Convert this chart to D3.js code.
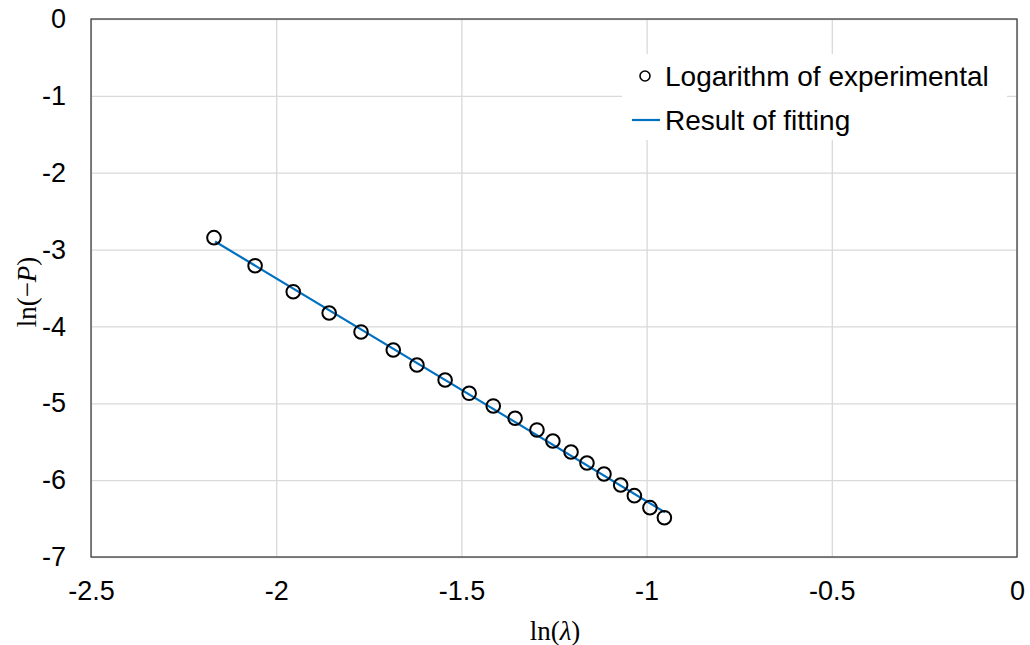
<!DOCTYPE html>
<html>
<head>
<meta charset="utf-8">
<script src="https://cdn.jsdelivr.net/npm/d3@7"></script>
<style>
  body { margin: 0; background: #fff; }
  .tick text { font-family: "Liberation Sans", Arial, sans-serif; font-size: 27px; fill: #000; }
</style>
</head>
<body>
<div id="chart"></div>
<script>
// data
var lnLambda = [-2.168, -2.057, -1.954, -1.857, -1.771, -1.684, -1.620, -1.544, -1.479, -1.414,
                -1.355, -1.296, -1.253, -1.204, -1.161, -1.115, -1.070, -1.033, -0.991, -0.952];
var lnP = [-2.845, -3.210, -3.548, -3.825, -4.072, -4.307, -4.502, -4.697, -4.870, -5.035,
           -5.195, -5.347, -5.491, -5.634, -5.777, -5.920, -6.063, -6.202, -6.358, -6.489];
var fitX = [-2.165, -0.950];
var fitY = [-2.895, -6.420];
var xTicks = [-2.5, -2, -1.5, -1, -0.5, 0];
var yTicks = [0, -1, -2, -3, -4, -5, -6, -7];
var legendLabels = ["Logarithm of experimental", "Result of fitting"];

var svgWidth = 1030;
var svgHeight = 645;
var margin = { top: 19, right: 13, bottom: 88, left: 91 };
var width = svgWidth - margin.left - margin.right;
var height = svgHeight - margin.top - margin.bottom;

var svg = d3.select("#chart")
  .append("svg")
  .attr("width", svgWidth)
  .attr("height", svgHeight)
  .append("g")
  .attr("transform", `translate(${margin.left}, ${margin.top})`);

var xScale = d3.scaleLinear().domain([-2.5, 0]).range([0, width]);
var yScale = d3.scaleLinear().domain([-7, 0]).range([height, 0]);

// gridlines
svg.append("g")
  .attr("transform", `translate(0, ${height})`)
  .call(d3.axisBottom(xScale).tickValues(xTicks).tickSize(-height).tickFormat(""))
  .call(g => g.select(".domain").remove())
  .call(g => g.selectAll("line").attr("stroke", "#d9d9d9").attr("stroke-width", 1.3));
svg.append("g")
  .call(d3.axisLeft(yScale).tickValues(yTicks).tickSize(-width).tickFormat(""))
  .call(g => g.select(".domain").remove())
  .call(g => g.selectAll("line").attr("stroke", "#d9d9d9").attr("stroke-width", 1.3));

// tick labels (plain hyphen minus like the original)
svg.append("g")
  .attr("transform", `translate(0, ${height})`)
  .call(d3.axisBottom(xScale).tickValues(xTicks).tickSize(0).tickPadding(24).tickFormat(d => String(d)))
  .call(g => g.select(".domain").remove());
svg.append("g")
  .call(d3.axisLeft(yScale).tickValues(yTicks).tickSize(0).tickPadding(25).tickFormat(d => String(d)))
  .call(g => g.select(".domain").remove());

// frame
svg.append("rect")
  .attr("width", width)
  .attr("height", height)
  .attr("fill", "none")
  .attr("stroke", "#404040")
  .attr("stroke-width", 1.3);

// fitted line
var line = d3.line().x(d => xScale(d[0])).y(d => yScale(d[1]));
svg.append("path")
  .datum(fitX.map((x, i) => [x, fitY[i]]))
  .attr("d", line)
  .attr("fill", "none")
  .attr("stroke", "#0070c0")
  .attr("stroke-width", 2.2);

// experimental points
svg.selectAll("circle.pt")
  .data(lnLambda.map((x, i) => [x, lnP[i]]))
  .enter()
  .append("circle")
  .attr("class", "pt")
  .attr("cx", d => xScale(d[0]))
  .attr("cy", d => yScale(d[1]))
  .attr("r", 6.8)
  .attr("fill", "none")
  .attr("stroke", "#000")
  .attr("stroke-width", 2);

// legend
var legend = svg.append("g").attr("transform", "translate(531, 35)");
legend.append("rect")
  .attr("width", 385)
  .attr("height", 86)
  .attr("fill", "#fff");
legend.append("circle")
  .attr("cx", 23).attr("cy", 22).attr("r", 5)
  .attr("fill", "none").attr("stroke", "#000").attr("stroke-width", 1.6);
legend.append("line")
  .attr("x1", 10).attr("x2", 38).attr("y1", 66).attr("y2", 66)
  .attr("stroke", "#0070c0").attr("stroke-width", 2.2);
legend.selectAll("text")
  .data(legendLabels)
  .enter()
  .append("text")
  .attr("x", 43)
  .attr("y", (d, i) => 22 + i * 44)
  .attr("dy", "0.35em")
  .style("font-family", "'Liberation Sans', Arial, sans-serif")
  .style("font-size", "28px")
  .text(d => d);

// axis titles
var xTitle = svg.append("text")
  .attr("x", width / 2 + 1)
  .attr("y", height + 83)
  .attr("text-anchor", "middle")
  .style("font-family", "'Liberation Serif', 'Times New Roman', serif")
  .style("font-size", "27px");
xTitle.append("tspan").text("ln(");
xTitle.append("tspan").style("font-style", "italic").text("λ");
xTitle.append("tspan").text(")");

var yTitle = svg.append("text")
  .attr("transform", "rotate(-90)")
  .attr("x", -(292 - margin.top))
  .attr("y", 36 - margin.left)
  .attr("text-anchor", "middle")
  .style("font-family", "'Liberation Serif', 'Times New Roman', serif")
  .style("font-size", "27px");
yTitle.append("tspan").text("ln(−");
yTitle.append("tspan").style("font-style", "italic").text("P");
yTitle.append("tspan").text(")");
</script>
</body>
</html>
